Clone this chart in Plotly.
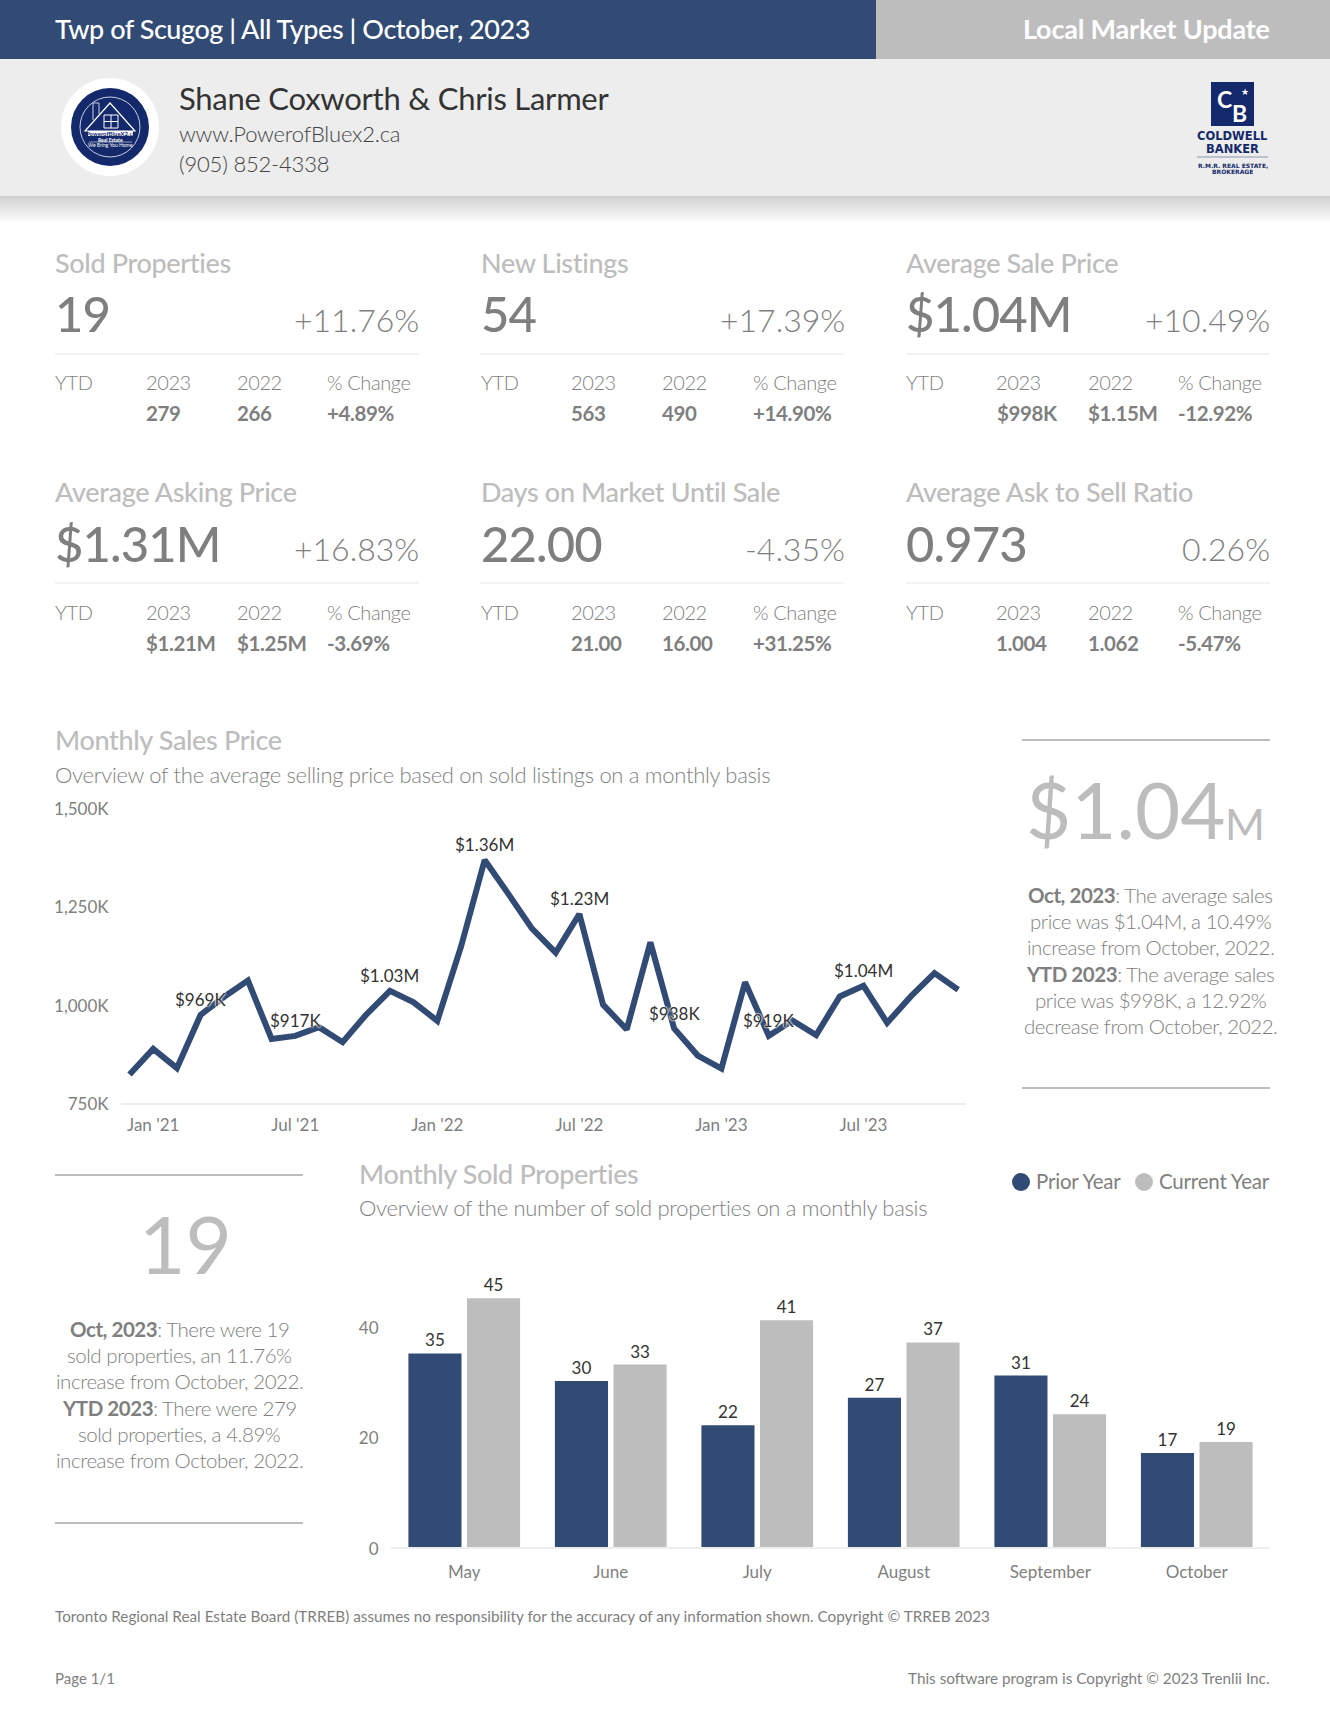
import plotly.graph_objects as go

W, H = 1330, 1726
NAVY = "#324B74"
GREY = "#BDBDBD"
TITLE = "#BDBDBD"
TXT = "#7F7F7F"
LOGO = "#14296B"
FONT = "Lato"

# ---- data ----
header_left = "Twp of Scugog | All Types | October, 2023"
header_right = "Local Market Update"
agent_name = "Shane Coxworth & Chris Larmer"
agent_site = "www.PowerofBluex2.ca"
agent_phone = "(905) 852-4338"

kpi_titles = ["Sold Properties", "New Listings", "Average Sale Price",
              "Average Asking Price", "Days on Market Until Sale", "Average Ask to Sell Ratio"]
kpi_values = ["19", "54", "$1.04M", "$1.31M", "22.00", "0.973"]
kpi_changes = ["+11.76%", "+17.39%", "+10.49%", "+16.83%", "-4.35%", "0.26%"]
ytd_headers = ["YTD", "2023", "2022", "% Change"]
ytd_2023 = ["279", "563", "$998K", "$1.21M", "21.00", "1.004"]
ytd_2022 = ["266", "490", "$1.15M", "$1.25M", "16.00", "1.062"]
ytd_change = ["+4.89%", "+14.90%", "-12.92%", "-3.69%", "+31.25%", "-5.47%"]

price_months = ["Dec '20", "Jan '21", "Feb '21", "Mar '21", "Apr '21", "May '21", "Jun '21", "Jul '21", "Aug '21",
                "Sep '21", "Oct '21", "Nov '21", "Dec '21", "Jan '22", "Feb '22", "Mar '22", "Apr '22", "May '22",
                "Jun '22", "Jul '22", "Aug '22", "Sep '22", "Oct '22", "Nov '22", "Dec '22", "Jan '23", "Feb '23",
                "Mar '23", "Apr '23", "May '23", "Jun '23", "Jul '23", "Aug '23", "Sep '23", "Oct '23", "Nov '23"]
price_values = [821, 886, 837, 972, 1018, 1059, 911, 919, 941, 903, 973, 1033, 1004, 957, 1145, 1365, 1279, 1191,
                1130, 1228, 998, 935, 1156, 938, 869, 836, 1055, 919, 958, 921, 1019, 1046, 952, 1019, 1078, 1036]
price_labels = ["", "", "", "$969K", "", "", "", "$917K", "", "", "", "$1.03M", "", "", "", "$1.36M", "", "", "",
                "$1.23M", "", "", "", "$938K", "", "", "", "$919K", "", "", "", "$1.04M", "", "", "", ""]
price_ticks = ["Jan '21", "Jul '21", "Jan '22", "Jul '22", "Jan '23", "Jul '23"]
price_yticks = [750, 1000, 1250, 1500]
price_yticklabels = ["750K", "1,000K", "1,250K", "1,500K"]

sold_months = ["May", "June", "July", "August", "September", "October"]
sold_prior = [35, 30, 22, 27, 31, 17]
sold_current = [45, 33, 41, 37, 24, 19]
sold_yticks = [0, 20, 40]

price_text = ["<b>Oct, 2023</b>: The average sales", "price was $1.04M, a 10.49%", "increase from October, 2022.",
              "<b>YTD 2023</b>: The average sales", "price was $998K, a 12.92%", "decrease from October, 2022."]
sold_text = ["<b>Oct, 2023</b>: There were 19", "sold properties, an 11.76%", "increase from October, 2022.",
             "<b>YTD 2023</b>: There were 279", "sold properties, a 4.89%", "increase from October, 2022."]


def px(x):
    return x / W


def py(y):
    return 1 - y / H


annotations, shapes = [], []


def text(x, y, s, size, color=TXT, anchor="left", weight=400, ls=0, family=FONT):
    if ls:
        s = f'<span style="letter-spacing:{ls}px">{s}</span>'
    annotations.append(dict(x=px(x), y=py(y), xref="paper", yref="paper", text=s, showarrow=False,
                            xanchor=anchor, yanchor="middle", borderpad=0, borderwidth=0,
                            font=dict(family=family, size=size, color=color, weight=weight)))


def rect(x0, y0, x1, y1, color):
    shapes.append(dict(type="rect", xref="paper", yref="paper", x0=px(x0), x1=px(x1), y0=py(y0), y1=py(y1),
                       fillcolor=color, line=dict(width=0), layer="below"))


def circle(cx, cy, r, fill, line=None, lw=0):
    shapes.append(dict(type="circle", xref="paper", yref="paper", x0=px(cx - r), x1=px(cx + r),
                       y0=py(cy + r), y1=py(cy - r), fillcolor=fill,
                       line=dict(width=lw, color=line or fill), layer="below"))


def line(x0, y0, x1, y1, color, lw=1):
    shapes.append(dict(type="line", xref="paper", yref="paper", x0=px(x0), x1=px(x1), y0=py(y0), y1=py(y1),
                       line=dict(color=color, width=lw), layer="below"))


# header
rect(0, 0, 876, 59, NAVY)
rect(876, 0, W, 59, GREY)
rect(0, 59, W, 196, "#EDEDED")
for i in range(28):
    v = int(0xD2 + (0xFF - 0xD2) * (i / 27))
    rect(0, 196 + i, W, 197 + i, f"rgb({v},{v},{v})")
text(55, 28, header_left, 27, "white", weight=500, ls=-0.45)
text(1270, 28, header_right, 27, "white", "right", weight=700, ls=-0.2)
text(179, 98, agent_name, 31, "#333333", weight=400, ls=-0.25)
text(179, 133.5, agent_site, 22, "#444444", weight=300, ls=-0.2)
text(179, 163.5, agent_phone, 22, "#444444", weight=300, ls=-0.2)

# round logo
circle(110, 127, 49, "white")
circle(110, 127, 39, LOGO)
circle(110, 127, 30, LOGO, "#C9D0E2", 1)
shapes.append(dict(type="path", xref="paper", yref="paper", layer="below",
                   path=f"M {px(85)} {py(131)} L {px(110)} {py(103)} L {px(135)} {py(131)} Z",
                   fillcolor=LOGO, line=dict(color="white", width=1.2)))
line(93, 103, 93, 120, "#C9D0E2", 1)
line(99, 103, 99, 114, "#C9D0E2", 1)
line(93, 103, 99, 103, "#C9D0E2", 1)
line(104, 115, 118, 115, "white", 1)
line(104, 128, 118, 128, "white", 1)
line(104, 115, 104, 128, "white", 1)
line(118, 115, 118, 128, "white", 1)
line(111, 115, 111, 128, "white", 1)
line(104, 121.5, 118, 121.5, "white", 1)
rect(88, 131, 133, 136, "white")
text(110.5, 133.5, "PowerofBlueX2.ca", 6, LOGO, "center", 700)
text(110, 139.5, "Real Estate", 5, "white", "center", 700)
line(89, 142, 132, 142, "#C9D0E2", 0.7)
text(110, 145.5, "We Bring You Home", 5, "white", "center")

# Coldwell Banker logo
rect(1211, 82, 1254, 126, LOGO)
text(1224, 99, "C", 23, "white", "center", 700)
text(1239, 113, "B", 23, "white", "center", 700)
text(1245, 92, "★", 9, "white", "center", family="DejaVu Sans")
text(1232.5, 136, "COLDWELL", 11.5, LOGO, "center", 700, family="DejaVu Sans")
text(1232.5, 149, "BANKER", 11.5, LOGO, "center", 700, family="DejaVu Sans")
line(1197, 157, 1268, 157, "#8A94AD", 1)
text(1232.5, 165, "R.M.R. REAL ESTATE,", 6, LOGO, "center", 700, family="DejaVu Sans")
text(1232.5, 171.5, "BROKERAGE", 6, LOGO, "center", 700, family="DejaVu Sans")

# KPI grid
col_x = [55, 480.5, 906]
row_y = [0, 229]
ytd_row_y = [0, 230]
col_offsets = [0, 90.5, 181.5, 272]
for i, title in enumerate(kpi_titles):
    x0 = col_x[i % 3]
    dy = row_y[i // 3]
    dy2 = ytd_row_y[i // 3]
    text(x0, 262.5 + dy, title, 27, TITLE, weight=500, ls=-0.35)
    text(x0, 313.5 + dy, kpi_values[i], 49, TXT, weight=500, ls=-0.9)
    text(x0 + 364, 319 + dy, kpi_changes[i], 32, TXT, "right", weight=300)
    line(x0, 354 + dy, x0 + 364, 354 + dy, "#EEEEEE", 1.5)
    for off, head in zip(col_offsets, ytd_headers):
        text(x0 + off, 382 + dy2, head, 20, TXT, weight=300, ls=-0.4)
    text(x0 + col_offsets[1], 413 + dy2, ytd_2023[i], 20.5, TXT, weight=700, ls=-0.4)
    text(x0 + col_offsets[2], 413 + dy2, ytd_2022[i], 20.5, TXT, weight=700, ls=-0.4)
    text(x0 + col_offsets[3], 413 + dy2, ytd_change[i], 20.5, TXT, weight=700, ls=-0.4)

# chart titles
text(55, 739, "Monthly Sales Price", 27, TITLE, weight=500, ls=-0.35)
text(55, 775, "Overview of the average selling price based on sold listings on a monthly basis", 22, TXT,
     weight=300, ls=-0.3)
text(359, 1173, "Monthly Sold Properties", 27, TITLE, weight=500, ls=-0.35)
text(359, 1207, "Overview of the number of sold properties on a monthly basis", 22, TXT, weight=300, ls=-0.3)

# legend
circle(1021, 1182, 9, NAVY)
text(1036, 1181, "Prior Year", 20.5, TXT, ls=-0.2)
circle(1144, 1182, 9, GREY)
text(1270, 1181, "Current Year", 20.5, TXT, "right", ls=-0.2)

# side panels
line(1022, 740, 1270, 740, GREY, 2)
line(1022, 1088, 1270, 1088, GREY, 2)
text(1225, 809, "$1.04", 78, GREY, "right", weight=400)
text(1225, 823, "M", 43, GREY, "left", weight=400)
for j, s in enumerate(price_text):
    text(1150, 895 + j * 26.2, s, 20.5, TXT, "center", weight=300, ls=-0.45)

line(55, 1175, 303, 1175, GREY, 2)
line(55, 1523, 303, 1523, GREY, 2)
text(186, 1243, "19", 80, GREY, "center", weight=400)
for j, s in enumerate(sold_text):
    text(179, 1329 + j * 26.2, s, 20.5, TXT, "center", weight=300, ls=-0.45)

# footer
text(55, 1616, "Toronto Regional Real Estate Board (TRREB) assumes no responsibility for the accuracy of any "
     "information shown. Copyright © TRREB 2023", 15.3, TXT)
text(55, 1678, "Page 1/1", 15, TXT)
text(1270, 1678, "This software program is Copyright © 2023 Trenlii Inc.", 15.3, TXT, "right")

# data labels of the price line, tied to the data by the axes
for m, v, lab in zip(price_months, price_values, price_labels):
    if lab:
        annotations.append(dict(x=m, y=v, xref="x", yref="y", text=lab, showarrow=False, xanchor="center",
                                yanchor="middle", yshift=15, borderpad=0, borderwidth=0,
                                font=dict(family=FONT, size=17, color="#333333",
                                          shadow="0 0 2px #fff, 0 0 2px #fff, 0 0 2px #fff")))

fig = go.Figure()
fig.add_trace(go.Scatter(x=price_months, y=price_values, mode="lines", cliponaxis=False, showlegend=False,
                         line=dict(color=NAVY, width=6), xaxis="x", yaxis="y"))
fig.add_trace(go.Bar(x=sold_months, y=sold_prior, name="Prior Year", marker=dict(color=NAVY, line=dict(width=0)),
                     text=sold_prior, textposition="outside", cliponaxis=False, showlegend=False,
                     textfont=dict(family=FONT, size=17, color="#333333"), xaxis="x2", yaxis="y2"))
fig.add_trace(go.Bar(x=sold_months, y=sold_current, name="Current Year", marker=dict(color=GREY, line=dict(width=0)),
                     text=sold_current, textposition="outside", cliponaxis=False, showlegend=False,
                     textfont=dict(family=FONT, size=17, color="#333333"), xaxis="x2", yaxis="y2"))

tick_font = dict(family=FONT, size=17, color=TXT)
fig.update_layout(
    template="none",
    width=W, height=H, autosize=False, margin=dict(l=0, r=0, t=0, b=0, pad=0),
    paper_bgcolor="white", plot_bgcolor="white", font=dict(family=FONT),
    barmode="group", bargap=0.2, bargroupgap=0.094,
    annotations=annotations, shapes=shapes,
    xaxis=dict(domain=[px(121), px(966)], type="category", categoryorder="array", categoryarray=price_months,
               range=[-0.36, 35.33], tickmode="array", tickvals=price_ticks, ticktext=price_ticks,
               automargin=False, showgrid=False, zeroline=False, showline=True, linecolor="#EEEEEE", linewidth=2,
               ticks="outside", ticklen=6, tickcolor="rgba(0,0,0,0)", tickfont=tick_font),
    yaxis=dict(domain=[py(1102.5), py(806.7)], range=[750, 1500], tickmode="array", tickvals=price_yticks,
               ticktext=price_yticklabels, automargin=False, showgrid=False, zeroline=False, showline=False,
               ticks="outside", ticklen=8, tickcolor="rgba(0,0,0,0)", tickfont=tick_font, ticklabelshift=2),
    xaxis2=dict(domain=[px(391), px(1270)], anchor="y2", type="category", categoryorder="array",
                categoryarray=sold_months, automargin=False, showgrid=False, zeroline=False, showline=True,
                linecolor="#EEEEEE", linewidth=2, ticks="outside", ticklen=9, tickcolor="rgba(0,0,0,0)",
                tickfont=tick_font),
    yaxis2=dict(domain=[py(1547), py(1270.5)], anchor="x2", range=[0, 50], tickmode="array", tickvals=sold_yticks,
                automargin=False, showgrid=False, zeroline=False, showline=False,
                ticks="outside", ticklen=8, tickcolor="rgba(0,0,0,0)", tickfont=tick_font, ticklabelshift=2),
)
fig.write_html("out.html", config={"displayModeBar": False},
               post_script="document.body.style.margin='0';")
